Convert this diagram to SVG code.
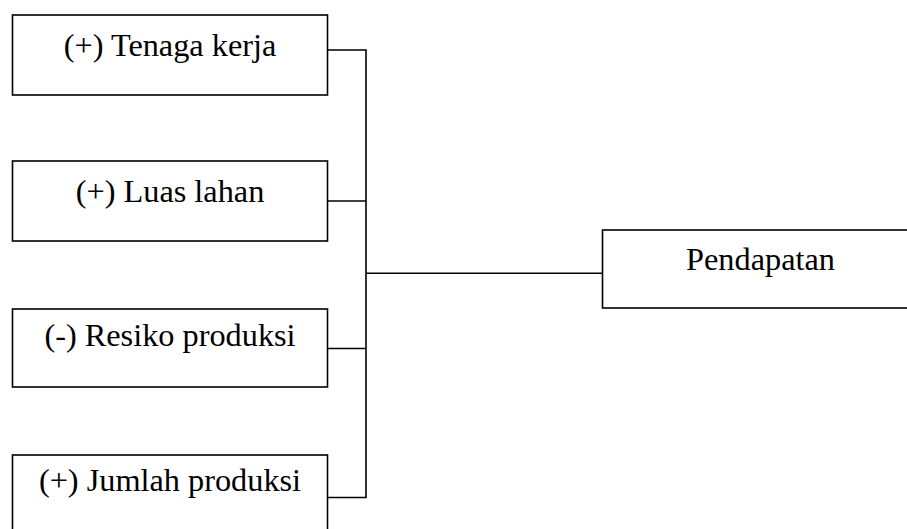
<svg xmlns="http://www.w3.org/2000/svg" width="907" height="529" viewBox="0 0 907 529">
<style>
.box{fill:#fff;stroke:#000;stroke-width:1.6}
.lbl{font-family:"Liberation Serif","Times New Roman",serif;font-size:32.3px;fill:#000;text-anchor:middle}
.con{fill:none;stroke:#000;stroke-width:1.6}
</style>
<rect width="907" height="529" fill="#fff"/>
<g id="connectors">
<polyline class="con" points="328,50 366,50 366,497.5 328,497.5"/>
<line class="con" x1="328" y1="201" x2="366" y2="201"/>
<line class="con" x1="328" y1="348.5" x2="366" y2="348.5"/>
<line class="con" x1="366" y1="273.3" x2="603" y2="273.3"/>
</g>
<g id="n1"><rect class="box" x="12.5" y="15" width="315" height="80"/><text class="lbl" x="170" y="55.5">(+) Tenaga kerja</text></g>
<g id="n2"><rect class="box" x="12.5" y="161" width="315" height="80"/><text class="lbl" x="170" y="202">(+) Luas lahan</text></g>
<g id="n3"><rect class="box" x="12.5" y="309" width="315" height="78"/><text class="lbl" x="170" y="345.5">(-) Resiko produksi</text></g>
<g id="n4"><rect class="box" x="12.5" y="455" width="315" height="90"/><text class="lbl" x="170" y="491">(+) Jumlah produksi</text></g>
<g id="n5"><rect class="box" x="602.5" y="230" width="318" height="78"/><text class="lbl" x="760.5" y="269.5">Pendapatan</text></g>
</svg>
